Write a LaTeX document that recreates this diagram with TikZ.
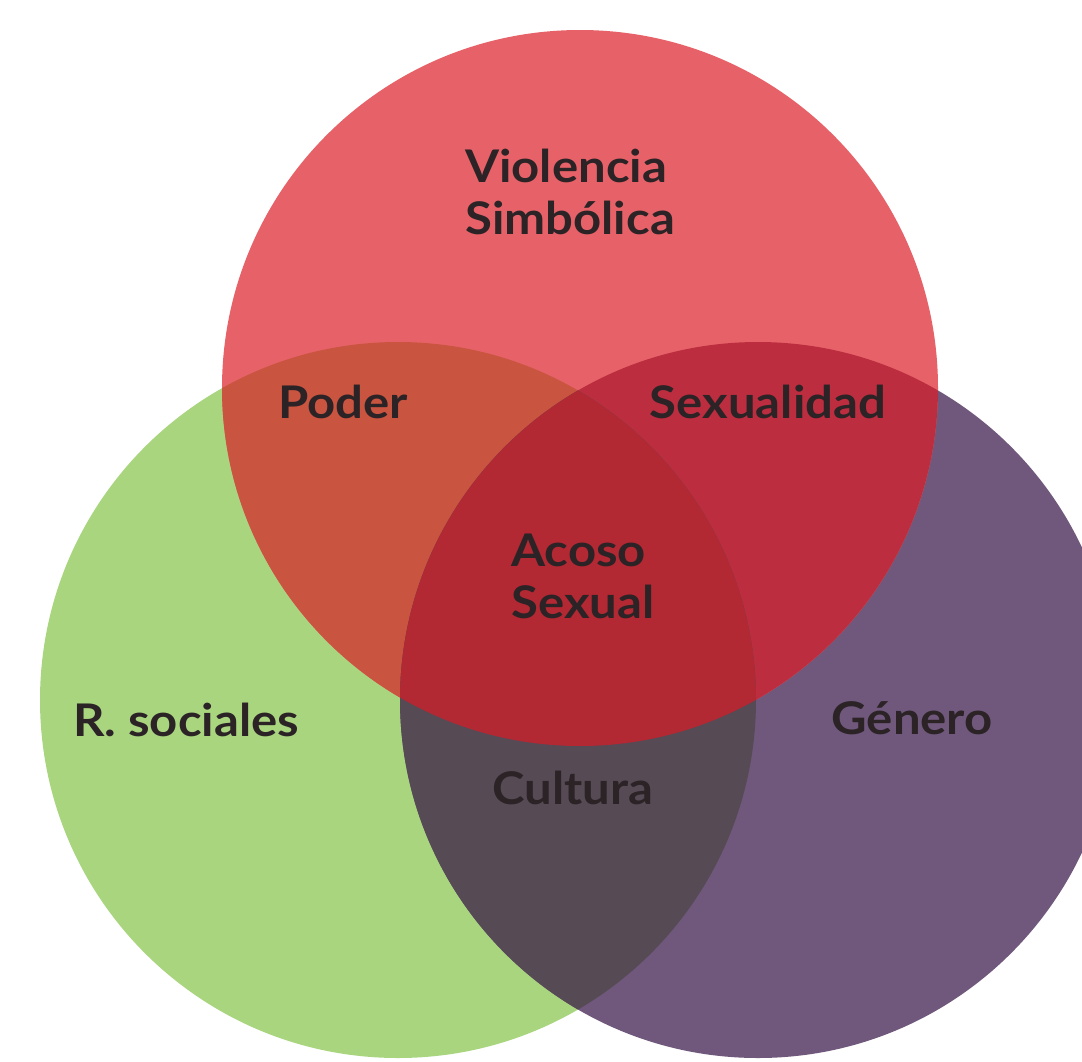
\documentclass[tikz,border=0pt]{standalone}
\usepackage{fontspec}
\setmainfont{Lato}[FakeStretch=1.09]
\definecolor{rojo}{HTML}{E76268}
\definecolor{verde}{HTML}{A9D57F}
\definecolor{morado}{HTML}{6F587B}
\definecolor{rojoverde}{HTML}{C95440}
\definecolor{rojomorado}{HTML}{BC2E3F}
\definecolor{verdemorado}{HTML}{564A55}
\definecolor{centro}{HTML}{B22833}
\definecolor{texto}{HTML}{2B2326}

\begin{document}
\begin{tikzpicture}[x=1pt,y=-1pt,
  lbl/.style={font=\fontsize{45}{52}\selectfont\bfseries, text=texto, align=left, inner sep=0pt}]
\useasboundingbox (0,0) rectangle (1082,1061);
\clip (0,0) rectangle (1082,1061);

% the three sets
\fill[verde] (398,700) circle (358pt);
\fill[morado] (758,700) circle (358pt);
\fill[rojo] (580,388) circle (358pt);

% overlaps
\begin{scope}
\clip (580,388) circle (358pt);
\fill[rojoverde] (398,700) circle (358pt);
\fill[rojomorado] (758,700) circle (358pt);
\end{scope}
\begin{scope}
\clip (398,700) circle (358pt);
\fill[verdemorado] (758,700) circle (358pt);
\clip (758,700) circle (358pt);
\fill[centro] (580,388) circle (358pt);
\end{scope}

\node[lbl] (simbolica) at (570,192) {Violencia\\Simbólica};
\node[lbl] (poder) at (343,402) {Poder};
\node[lbl] (sexualidad) at (768,402) {Sexualidad};
\node[lbl] (acoso) at (583,576) {Acoso\\Sexual};
\node[lbl] (sociales) at (186,720) {R. sociales};
\node[lbl] (genero) at (912,718) {Género};
\node[lbl] (cultura) at (573,788) {Cultura};
\end{tikzpicture}
\end{document}
